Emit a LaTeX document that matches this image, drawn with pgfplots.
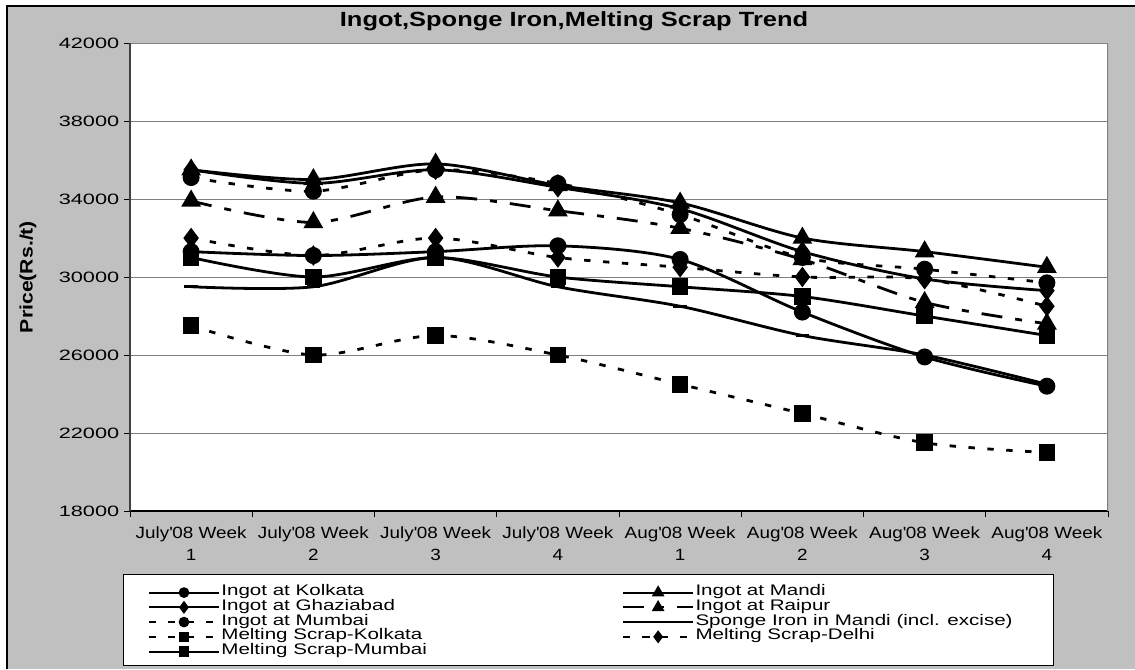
\documentclass[border=0pt]{standalone}
\usepackage{fontspec}
\setmainfont{Liberation Sans}
\newfontfamily\titlefont{Liberation Sans}[FakeStretch=1.24]
\newfontfamily\xtickfont{Liberation Sans}[FakeStretch=1.16]
\newfontfamily\ytickfont{Liberation Sans}[FakeStretch=1.45]
\newfontfamily\legfont{Liberation Sans}[FakeStretch=1.34]
\newfontfamily\ylabfont{Liberation Sans}[FakeStretch=1.18]
\usepackage{pgfplots}
\pgfplotsset{compat=1.18}
\usepackage{pgfplotstable}
\definecolor{bggray}{HTML}{C0C0C0}
\definecolor{gridgray}{HTML}{808080}

\pgfplotstableread{
x Kol Man Gha Rai Mum Spo MSK MSD MSM
1 31300 35500 35500 33900 35100 29500 27500 32000 31000
2 31100 35000 34800 32800 34400 29500 26000 31100 30000
3 31300 35800 35500 34100 35500 31000 27000 32000 31000
4 31600 34700 34600 33400 34800 29500 26000 31000 30000
5 30900 33800 33500 32500 33200 28500 24500 30500 29500
6 28200 32000 31300 30900 31000 27000 23000 30000 29000
7 25900 31300 29900 28700 30400 26000 21500 29900 28000
8 24400 30500 29300 27600 29700 24500 21000 28500 27000
}\data

\tikzset{
  shortdash/.style={dash pattern=on 4.8pt off 9.4pt},
  longdashdot/.style={dash pattern=on 15.75pt off 9.75pt on 5.25pt off 9.75pt},
}

\begin{document}
\begin{tikzpicture}
\begin{scope}[x=0.75pt,y=0.75pt]
\useasboundingbox (0,0) rectangle (1135,669);
\fill[white] (0,0) rectangle (1135,669);
\fill[bggray] (7,0) rectangle (1135,663);
\draw[black,line width=1.5pt] (7,0) -- (7,663) -- (1135,663);
\fill[white] (123,4) rectangle (1053,95);
\draw[black,line width=0.75pt] (123,4) rectangle (1053,95);
\end{scope}
\begin{axis}[
  at={(97.5pt,118.5pt)}, anchor=south west,
  width=733.5pt, height=351pt, scale only axis,
  axis background/.style={fill=white},
  xmin=0.5, xmax=8.5, ymin=18000, ymax=42000,
  enlargelimits=false,
  axis lines=left,
  axis line style={-, line width=1pt},
  x axis line style={black},
  y axis line style={black!75},
  tick align=outside,
  major tick length=4.5pt,
  tick style={black, line width=0.75pt},
  xtick={0.5,1.5,...,8.5},
  x tick label as interval,
  xticklabels={{July\textquotesingle 08 Week\\1},{July\textquotesingle 08 Week\\2},{July\textquotesingle 08 Week\\3},{July\textquotesingle 08 Week\\4},{Aug\textquotesingle 08 Week\\1},{Aug\textquotesingle 08 Week\\2},{Aug\textquotesingle 08 Week\\3},{Aug\textquotesingle 08 Week\\4}},
  xticklabel style={font=\xtickfont\fontsize{12.2}{16.5}\selectfont, align=center, yshift=-3.75pt},
  ytick={18000,22000,...,42000},
  scaled y ticks=false,
  yticklabel style={font=\ytickfont\fontsize{11.25}{13}\selectfont, /pgf/number format/1000 sep={}, /pgf/number format/assume math mode=true},
  ymajorgrids,
  major grid style={gridgray, line width=0.75pt},
  title={Ingot,Sponge Iron,Melting Scrap Trend},
  title style={at={(axis description cs:0.454,1.0192)}, anchor=base, font=\titlefont\bfseries\fontsize{15.4}{18}\selectfont, inner sep=0pt},
  ylabel={Price(Rs./t)},
  ylabel style={at={(axis description cs:-0.1043,0.5)}, anchor=center, font=\ylabfont\bfseries\fontsize{13.5}{16}\selectfont},
  legend columns=2,
  legend cell align=left,
  legend style={at={(axis description cs:0.0184,-0.158)}, anchor=north west, draw=none, fill=none, inner sep=0pt,
    font=\legfont\fontsize{11.5}{11}\selectfont, row sep=0pt, column sep=0pt,
    nodes={inner ysep=0pt, inner xsep=0.75pt, text height=7.8pt, text depth=3.26pt}},
  legend image code/.code={\draw[mark repeat=2,mark phase=2,#1,line width=1.6pt,every mark/.append style={scale=0.6}] plot coordinates {(0pt,0pt) (26pt,0pt) (52.5pt,0pt)};},
  every axis plot/.append style={black, line width=2.1pt, smooth, tension=0.5},
]
\addplot[mark=*, mark size=5.3pt] table[x=x,y=Kol]{\data};
\addlegendentry{\makebox[300pt][l]{Ingot at Kolkata}}
\addplot[mark=triangle*, mark size=6.5pt] table[x=x,y=Man]{\data};
\addlegendentry{Ingot at Mandi}
\addplot[mark=diamond*, mark size=6pt] table[x=x,y=Gha]{\data};
\addlegendentry{\makebox[300pt][l]{Ingot at Ghaziabad}}
\addplot[longdashdot, mark=triangle*, mark size=6.5pt, mark options={solid}] table[x=x,y=Rai]{\data};
\addlegendentry{Ingot at Raipur}
\addplot[shortdash, mark=*, mark size=5.3pt, mark options={solid}] table[x=x,y=Mum]{\data};
\addlegendentry{\makebox[300pt][l]{Ingot at Mumbai}}
\addplot[mark=-, mark size=5pt] table[x=x,y=Spo]{\data};
\addlegendentry{Sponge Iron in Mandi (incl. excise)}
\addplot[shortdash, mark=square*, mark size=5.2pt, mark options={solid}] table[x=x,y=MSK]{\data};
\addlegendentry{\makebox[300pt][l]{Melting Scrap-Kolkata}}
\addplot[shortdash, mark=diamond*, mark size=6pt, mark options={solid}] table[x=x,y=MSD]{\data};
\addlegendentry{Melting Scrap-Delhi}
\addplot[mark=square*, mark size=5.2pt] table[x=x,y=MSM]{\data};
\addlegendentry{\makebox[300pt][l]{Melting Scrap-Mumbai}}
\draw[gridgray, line width=1pt] (rel axis cs:1,0) -- (rel axis cs:1,1);
\end{axis}
\end{tikzpicture}
\end{document}
